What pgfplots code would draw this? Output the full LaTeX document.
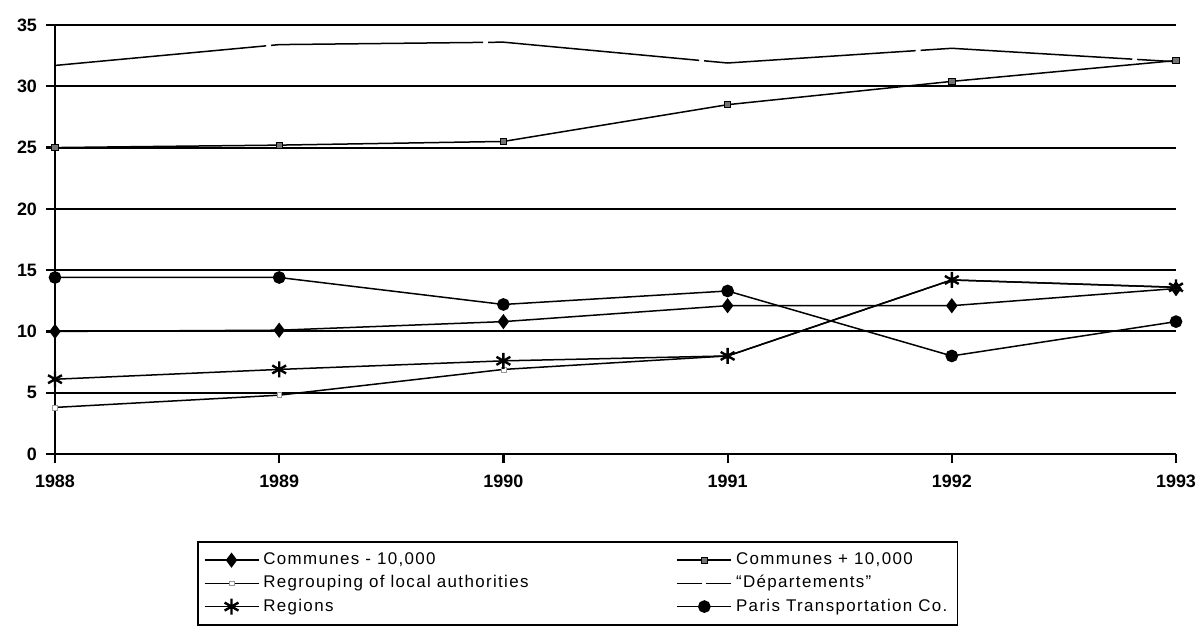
\documentclass[border=0pt]{standalone}
\usepackage{fontspec}
\setmainfont{Liberation Sans}
\usepackage{pgfplots}
\pgfplotsset{compat=1.18}
\begin{document}
\begin{tikzpicture}
\path[use as bounding box] (0,0) rectangle (600.5bp,318.5bp);
\begin{axis}[
 at={(27.5bp,91.5bp)}, anchor=south west,
 scale only axis, width=560.5bp, height=214.5bp,
 xmin=1988, xmax=1993, ymin=0, ymax=35,
 xtick={1988,1989,1990,1991,1992,1993}, ytick={0,5,10,15,20,25,30,35},
 axis line style={draw=none},
 xtick pos=bottom, ytick pos=left,
 tick align=outside,
 major tick length=4.5bp,
 every tick/.style={black, line width=1.1bp},
 ymajorgrids, grid style={black, line width=1bp},
 extra x ticks={1988}, extra x tick labels={},
 extra x tick style={grid=major, grid style={black, line width=1bp}},
 /pgf/number format/assume math mode=true,
 /pgf/number format/set thousands separator={},
 ticklabel style={font=\bfseries\fontsize{9}{10}\selectfont},
 xticklabel style={yshift=-2.5bp},
 yticklabel style={xshift=-1bp},
 legend columns=2,
 legend cell align=left,
 legend style={at={(axis description cs:0.1267,-0.2028)}, anchor=north west,
   draw=black, line width=0.75bp, inner xsep=3bp, inner ysep=3.5bp,
   font=\addfontfeature{LetterSpace=8}\fontsize{8.5}{12}\selectfont,
   row sep=0bp,
   /tikz/every even column/.append style={column sep=72bp}},
 legend image code/.code={%
   \draw[#1, mark=none] (0bp,0bp) -- (27bp,0bp);
   \draw[#1, only marks] plot coordinates {(13.5bp,0bp)};},
 every axis plot/.append style={black, line width=0.75bp},
]
\addplot[mark=diamond*, mark size=3.2bp] coordinates {
 (1988,10.0) (1989,10.1) (1990,10.8) (1991,12.1) (1992,12.1) (1993,13.5)};
\addlegendentry{Communes - 10,000}
\addplot[mark=square*, mark size=1.6bp, mark options={fill=black!55, line width=0.4bp}] coordinates {
 (1988,25.0) (1989,25.2) (1990,25.5) (1991,28.5) (1992,30.4) (1993,32.1)};
\addlegendentry{Communes + 10,000}
\addplot[mark=square*, mark size=1.2bp, mark options={fill=white, draw=black!40, line width=0.3bp}] coordinates {
 (1988,3.8) (1989,4.8) (1990,6.9) (1991,8.0) (1992,14.2) (1993,13.6)};
\addlegendentry{Regrouping of local authorities}
\addplot[mark=none, dash pattern=on 106bp off 2.5bp,
  legend image code/.code={\draw[black, line width=0.75bp] (0bp,0bp) -- (12.5bp,0bp) (14.5bp,0bp) -- (27bp,0bp);}] coordinates {
 (1988,31.7) (1989,33.4) (1990,33.6) (1991,31.9) (1992,33.1) (1993,32.0)};
\addlegendentry{``Départements''}
\addplot[mark=asterisk, mark size=4bp, mark options={line width=1.2bp}] coordinates {
 (1988,6.1) (1989,6.9) (1990,7.6) (1991,8.0) (1992,14.2) (1993,13.6)};
\addlegendentry{Regions}
\addplot[mark=*, mark size=2.8bp] coordinates {
 (1988,14.4) (1989,14.4) (1990,12.2) (1991,13.3) (1992,8.0) (1993,10.8)};
\addlegendentry{Paris Transportation Co.}
\end{axis}
\end{tikzpicture}
\end{document}
